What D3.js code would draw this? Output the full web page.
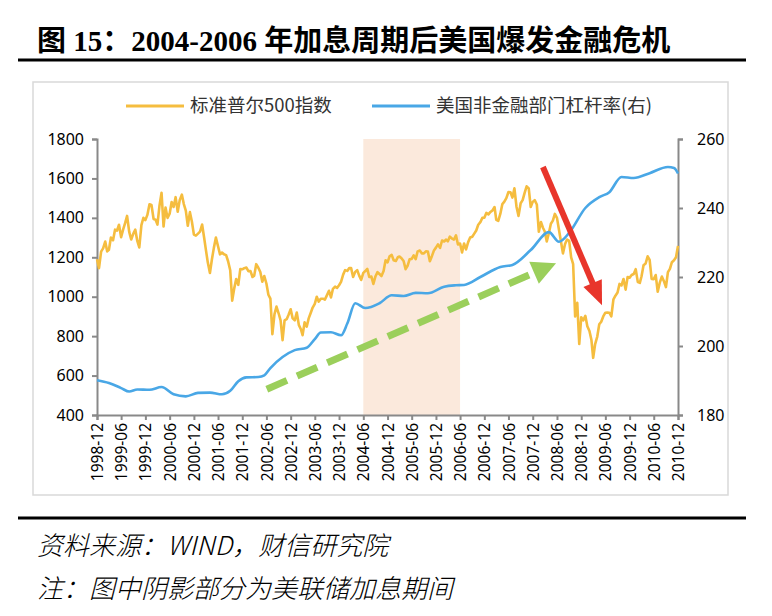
<!DOCTYPE html>
<html><head><meta charset="utf-8">
<script src="https://cdn.jsdelivr.net/npm/d3@7"></script>
<style>body{margin:0;background:#fff}</style>
</head><body>
<svg id="c" width="772" height="616"></svg>
<script>
// ---------- DATA ----------
const titleText = "图 15：2004-2006 年加息周期后美国爆发金融危机";
const sourceText = "资料来源：WIND，财信研究院";
const noteText = "注：图中阴影部分为美联储加息期间";
const seriesNames = ["标准普尔500指数", "美国非金融部门杠杆率(右)"];

const xTickLabels = ["1998-12","1999-06","1999-12","2000-06","2000-12","2001-06","2001-12","2002-06","2002-12","2003-06","2003-12","2004-06","2004-12","2005-06","2005-12","2006-06","2006-12","2007-06","2007-12","2008-06","2008-12","2009-06","2009-12","2010-06","2010-12"];
const leftTicks = [400,600,800,1000,1200,1400,1600,1800];
const rightTicks = [180,200,220,240,260];
const hikePeriod = ["2004-06","2006-06"];

// S&P 500, half-monthly readings (1st and 16th of each month) from 1998-12-01
const spxStart = "1998-12";
const spx = [
  1190,1145,                                                                                   // 1998-12
  1229,1245, 1280,1230, 1238,1300, 1286,1340, 1335,1365, 1302,1340, 1373,1410, 1329,1290, 1320,1340, 1283,1250, 1363,1400, 1389,1415, // 1999
  1469,1465, 1394,1390, 1366,1460, 1527,1356, 1452,1400, 1421,1480, 1455,1505, 1431,1490, 1518,1470, 1437,1360, 1429,1380, 1315,1310, // 2000
  1320,1330, 1366,1300, 1240,1173, 1120,1190, 1249,1300, 1256,1215, 1224,1215, 1211,1180, 1134,980,  1041,1090, 1060,1140, 1139,1145, // 2001
  1148,1130, 1130,1100, 1107,1165, 1147,1125, 1076,1105, 1067,1010, 990,810,   912,950,   916,880,   780,880,   886,910,   936,890,   // 2002
  880,920,   856,835,   805,870,   848,890,   917,945,   964,1000,  975,990,   990,985,   1008,1030, 996,1040,  1051,1045, 1058,1075, // 2003
  1112,1135, 1131,1145, 1145,1100, 1126,1135, 1107,1085, 1121,1130, 1141,1100, 1102,1065, 1104,1125, 1115,1105, 1130,1185, 1174,1205, // 2004
  1212,1185, 1181,1200, 1204,1195, 1181,1140, 1157,1190, 1192,1210, 1191,1230, 1234,1220, 1220,1230, 1229,1180, 1207,1235, 1249,1265, // 2005
  1248,1285, 1280,1290, 1281,1305, 1295,1290, 1311,1265, 1270,1225, 1270,1240, 1277,1300, 1304,1320, 1336,1365, 1378,1400, 1401,1425, // 2006
  1418,1430, 1438,1455, 1390,1385, 1421,1470, 1482,1500, 1531,1530, 1503,1550, 1455,1410, 1474,1490, 1527,1560, 1549,1455, 1481,1490, // 2007
  1468,1330, 1379,1350, 1331,1280, 1323,1370, 1386,1420, 1400,1340, 1280,1220, 1267,1290, 1283,1200, 1165,900,  969,760,   896,880,   // 2008
  903,850,   826,780,   690,760,   798,860,   873,900,   919,920,   919,900,   987,1005,  1021,1065, 1057,1090, 1036,1100, 1096,1110, // 2009
  1115,1140, 1074,1070, 1104,1160, 1169,1205, 1187,1090, 1089,1110, 1025,1070, 1102,1080, 1049,1125, 1141,1175, 1185,1200, 1258       // 2010
];

// US non-financial sector leverage ratio (%), right axis
const levDates = ["1998-12-01","1999-03-01","1999-06-01","1999-08-01","1999-10-01","2000-01-01","2000-04-01","2000-07-01","2000-10-01","2001-01-01","2001-04-01","2001-07-01","2001-09-01","2001-11-01","2002-01-01","2002-04-01","2002-05-16","2002-07-01","2002-10-01","2003-01-01","2003-04-01","2003-06-01","2003-07-16","2003-10-01","2003-12-16","2004-02-01","2004-04-01","2004-06-16","2004-10-01","2005-01-01","2005-04-01","2005-07-01","2005-10-01","2006-02-01","2006-05-01","2006-07-01","2006-11-01","2007-04-01","2007-07-01","2007-11-16","2008-04-01","2008-06-16","2008-09-01","2009-01-01","2009-04-20","2009-07-01","2009-10-01","2010-01-01","2010-05-01","2010-09-16","2010-11-01","2010-12-01"];
const lev = [190.1,189.3,187.8,186.8,187.4,187.3,188.1,186.0,185.4,186.4,186.5,186.0,187.0,189.8,190.9,191.0,191.5,193.6,196.8,198.8,199.5,202.0,203.9,204.0,203.1,206.5,212.4,211.0,212.4,214.7,214.5,215.4,215.3,217.2,217.6,217.7,220.0,222.9,223.5,227.8,233.0,230.2,232.8,240.0,243.2,244.6,249.0,248.7,250.1,251.9,251.6,250.0];

// annotation arrows: [date, S&P level] start -> tip
const greenArrow = [["2002-06-04", 531], ["2008-05-25", 1170]];
const redArrow = [["2008-02-16", 1658], ["2009-05-07", 957]];

// ---------- DRAW ----------
const svg = d3.select("#c");
const W = 772, H = 616;
const m = {l: 97, r: 678, t: 139, b: 415};
const pm = d3.timeParse("%Y-%m"), pd = d3.timeParse("%Y-%m-%d");

const x = d3.scaleTime().domain([pm(xTickLabels[0]), pm(xTickLabels[xTickLabels.length-1])]).range([m.l, m.r]);
const yL = d3.scaleLinear().domain([400, 1800]).range([m.b, m.t]);
const yR = d3.scaleLinear().domain([180, 260]).range([m.b, m.t]);

const start = pm(spxStart);
const spxData = spx.map((v, i) => {
  let d = d3.timeMonth.offset(start, Math.floor(i / 2));
  if (i % 2) d = d3.timeDay.offset(d, 15);
  return {d, v};
});
const levData = levDates.map((s, i) => ({d: pd(s), v: lev[i]}));

svg.append("rect").attr("width", W).attr("height", H).attr("fill", "#fff");

// title
svg.append("text").attr("x", 37).attr("y", 51).text(titleText)
  .attr("font-family", "'Liberation Serif','Noto Sans CJK SC',serif")
  .attr("font-weight", "bold").attr("font-size", 29).attr("fill", "#000");
svg.append("line").attr("x1", 18).attr("x2", 746).attr("y1", 60).attr("y2", 60)
  .attr("stroke", "#000").attr("stroke-width", 3);

// frame
svg.append("rect").attr("x", 33).attr("y", 82).attr("width", 695).attr("height", 413)
  .attr("fill", "none").attr("stroke", "#d9d9d9").attr("stroke-width", 1.5);

// shade
svg.append("rect").attr("x", x(pm(hikePeriod[0]))).attr("y", m.t)
  .attr("width", x(pm(hikePeriod[1])) - x(pm(hikePeriod[0]))).attr("height", m.b - m.t)
  .attr("fill", "#fbe9dc");

const axisColor = "#898989";
const fontNum = "'Noto Sans','Liberation Sans',sans-serif";

// left axis
const gL = svg.append("g").attr("transform", `translate(${m.l},0)`)
  .call(d3.axisLeft(yL).tickValues(leftTicks).tickSize(5).tickPadding(8).tickFormat(d3.format("d")));
// right axis
const gR = svg.append("g").attr("transform", `translate(${m.r},0)`)
  .call(d3.axisRight(yR).tickValues(rightTicks).tickSize(5).tickPadding(14).tickFormat(d3.format("d")));
// x axis
const gX = svg.append("g").attr("transform", `translate(0,${m.b})`)
  .call(d3.axisBottom(x).tickValues(xTickLabels.map(pm)).tickSize(5).tickFormat(d3.timeFormat("%Y-%m")));

[gL, gR, gX].forEach(g => {
  g.select(".domain").attr("stroke", axisColor).attr("stroke-width", 2);
  g.selectAll(".tick line").attr("stroke", axisColor).attr("stroke-width", 2);
  g.selectAll("text").attr("fill", "#000").attr("font-family", fontNum);
});
gL.selectAll("text").attr("font-size", 16);
gR.selectAll("text").attr("font-size", 16);
gX.selectAll("text").attr("font-size", 15.5)
  .attr("text-anchor", "end").attr("transform", "rotate(-90)")
  .attr("x", -8).attr("y", 0).attr("dy", "0.36em");

// series
const lineL = d3.line().x(d => x(d.d)).y(d => yL(d.v));
const lineR = d3.line().x(d => x(d.d)).y(d => yR(d.v)).curve(d3.curveMonotoneX);
const yellow = "#f5bd3f", blue = "#49a7e6";
svg.append("path").datum(spxData).attr("d", lineL).attr("fill", "none")
  .attr("stroke", yellow).attr("stroke-width", 2.6).attr("stroke-linejoin", "round");
svg.append("path").datum(levData).attr("d", lineR).attr("fill", "none")
  .attr("stroke", blue).attr("stroke-width", 2.6);

// arrows
function arrow(pts, color, width, headLen, headHalf, dash) {
  const x1 = x(pd(pts[0][0])), y1 = yL(pts[0][1]);
  const x2 = x(pd(pts[1][0])), y2 = yL(pts[1][1]);
  const dx = x2 - x1, dy = y2 - y1, L = Math.hypot(dx, dy);
  const ux = dx / L, uy = dy / L, nx = -uy, ny = ux;
  const bx = x2 - ux * headLen, by = y2 - uy * headLen;
  const ln = svg.append("line").attr("x1", x1).attr("y1", y1)
    .attr("x2", bx + ux * 1).attr("y2", by + uy * 1)
    .attr("stroke", color).attr("stroke-width", width);
  if (dash) ln.attr("stroke-dasharray", dash);
  svg.append("polygon").attr("points", [
    [x2, y2], [bx + nx * headHalf, by + ny * headHalf], [bx - nx * headHalf, by - ny * headHalf]
  ].map(p => p.join(",")).join(" ")).attr("fill", color);
}
arrow(greenArrow, "#9bcf5b", 7, 24, 12, "22,11");
arrow(redArrow, "#e8352b", 6, 24, 10, null);

// legend
const lgY = 106;
const legendFont = "'Noto Sans CJK SC','Noto Sans',sans-serif";
[[126, 190, yellow, seriesNames[0]], [372, 436, blue, seriesNames[1]]].forEach(([lx, tx, c, t]) => {
  svg.append("line").attr("x1", lx).attr("x2", lx + 58).attr("y1", lgY).attr("y2", lgY)
    .attr("stroke", c).attr("stroke-width", 3);
  svg.append("text").attr("x", tx).attr("y", lgY).attr("dy", "0.35em").text(t)
    .attr("font-family", legendFont).attr("font-size", 18.5).attr("fill", "#333");
});

// footer
svg.append("line").attr("x1", 18).attr("x2", 746).attr("y1", 518).attr("y2", 518)
  .attr("stroke", "#000").attr("stroke-width", 3);
const footFont = "'Noto Sans CJK SC',serif";
svg.append("text").attr("x", 37).attr("y", 555).text(sourceText)
  .attr("font-family", footFont).attr("font-style", "italic").attr("font-size", 26).attr("fill", "#000").attr("font-weight", 300);
svg.append("text").attr("x", 37).attr("y", 598).text(noteText)
  .attr("font-family", footFont).attr("font-style", "italic").attr("font-size", 26).attr("fill", "#000").attr("font-weight", 300);
</script>
</body></html>
